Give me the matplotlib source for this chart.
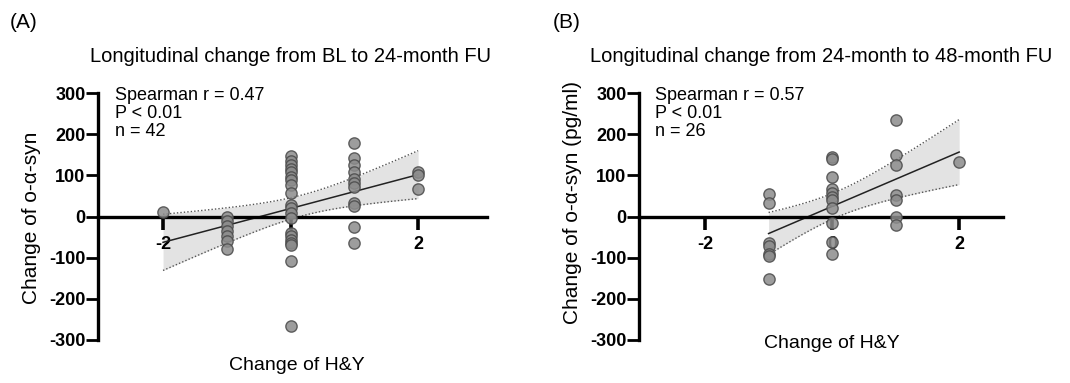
import numpy as np
import matplotlib
matplotlib.use("Agg")
import matplotlib.pyplot as plt

plt.rcParams['font.family'] = ['Liberation Sans', 'DejaVu Sans']

# ---------------- data ----------------
# Panel A: BL -> 24-month FU
a_y_m2 = [12]
a_y_m1 = [0, -12, -24, -36, -48, -60, -80]
a_y_0 = [148, 134, 126, 115, 107, 97, 88, 77, 57, 29, 21, 9, -3,
         -40, -48, -56, -64, -70, -108, -265]
a_y_p1 = [178, 142, 125, 108, 90, 82, 72, 32, 26, -26, -65]
a_y_p2 = [107, 102, 68]

# Panel B: 24-month -> 48-month FU
b_y_m1 = [55, 32, -65, -72, -90, -97, -152]
b_y_0 = [145, 140, 95, 67, 57, 47, 40, 20, -15, -62, -90]
b_y_p1 = [235, 150, 125, 53, 41, 0, -20]
b_y_p2 = [132]

a_groups = [(-2, a_y_m2), (-1, a_y_m1), (0, a_y_0), (1, a_y_p1), (2, a_y_p2)]
b_groups = [(-1, b_y_m1), (0, b_y_0), (1, b_y_p1), (2, b_y_p2)]

titles = ["Longitudinal change from BL to 24-month FU",
          "Longitudinal change from 24-month to 48-month FU"]
panel_tags = ["(A)", "(B)"]
ylabels = ["Change of o-\u03b1-syn", "Change of o-\u03b1-syn (pg/ml)"]
xlabel = "Change of H&Y"
stats_text = ["Spearman r = 0.47\nP < 0.01\nn = 42",
              "Spearman r = 0.57\nP < 0.01\nn = 26"]
y_ticks = [-300, -200, -100, 0, 100, 200, 300]
x_ticks = [-2, 0, 2]


def flatten(groups):
    xs, ys = [], []
    for gx, gy in groups:
        xs += [gx] * len(gy)
        ys += list(gy)
    return np.array(xs, float), np.array(ys, float)


def t_quant(nu, z=1.959964):
    return (z + (z**3 + z) / (4 * nu) + (5 * z**5 + 16 * z**3 + 3 * z) / (96 * nu**2)
            + (3 * z**7 + 19 * z**5 + 17 * z**3 - 15 * z) / (384 * nu**3))


W, H = 1070, 383
fig = plt.figure(figsize=(W / 100, H / 100), dpi=100)


def px(x, y):
    return x / W, 1 - y / H


def draw_panel(rect, groups, xlim, title, tag, ylab, stats, tag_xy, title_xy,
               ylab_xy, xlab_xy):
    ax = fig.add_axes(rect)
    x, y = flatten(groups)
    n = len(x)
    xm = x.mean()
    sxx = ((x - xm) ** 2).sum()
    b = ((x - xm) * (y - y.mean())).sum() / sxx
    a = y.mean() - b * xm
    res = y - (a + b * x)
    s = np.sqrt((res ** 2).sum() / (n - 2))
    xx = np.linspace(x.min(), x.max(), 100)
    yy = a + b * xx
    hw = t_quant(n - 2) * s * np.sqrt(1 / n + (xx - xm) ** 2 / sxx)
    ax.fill_between(xx, yy - hw, yy + hw, color='#e3e3e3', lw=0, zorder=1)
    ax.plot(xx, yy + hw, color='#555555', lw=1.0, ls=(0, (1, 1.5)), zorder=2)
    ax.plot(xx, yy - hw, color='#555555', lw=1.0, ls=(0, (1, 1.5)), zorder=2)
    ax.plot(xx, yy, color='#222222', lw=1.1, zorder=3)
    ax.scatter(x, y, s=66, facecolor='#8c8c8c', edgecolor='#4a4a4a',
               linewidths=1.0, alpha=0.85, zorder=5, clip_on=False)

    ax.set_xlim(*xlim)
    ax.set_ylim(-300, 300)
    ax.spines['top'].set_visible(False)
    ax.spines['right'].set_visible(False)
    ax.spines['left'].set_linewidth(2.4)
    ax.spines['bottom'].set_position(('data', 0))
    ax.spines['bottom'].set_linewidth(2.4)
    ax.spines['left'].set_zorder(4)
    ax.spines['bottom'].set_zorder(4)
    ax.set_yticks(y_ticks)
    ax.set_yticklabels([str(v) for v in y_ticks], fontweight='bold', fontsize=13)
    ax.set_xticks(x_ticks)
    ax.set_xticklabels([str(v) for v in x_ticks], fontweight='bold', fontsize=13)
    ax.tick_params(axis='y', direction='out', length=9, width=2, pad=0)
    ax.tick_params(axis='x', direction='out', length=9, width=2.6, pad=5)
    ax.patch.set_visible(False)

    ax.text(0.044, 1.025, stats, transform=ax.transAxes, ha='left', va='top',
            fontsize=13, linespacing=1.1)

    fig.text(*px(*tag_xy), tag, fontsize=15, ha='left', va='center')
    fig.text(*px(*title_xy), title, fontsize=14.5, ha='center', va='center')
    fig.text(*px(*ylab_xy), ylab, fontsize=15, ha='center', va='center',
             rotation=90)
    fig.text(*px(*xlab_xy), xlabel, fontsize=14, ha='center', va='center')
    return ax


y_top, y_bot = 93, 340
rect_a = [98 / W, 1 - y_bot / H, (487 - 98) / W, (y_bot - y_top) / H]
rect_b = [639 / W, 1 - y_bot / H, (1003 - 639) / W, (y_bot - y_top) / H]

draw_panel(rect_a, a_groups, (-3.02, 3.08), titles[0], panel_tags[0], ylabels[0],
           stats_text[0], (10, 22), (291, 57), (32, 218), (297, 366))
draw_panel(rect_b, b_groups, (-3.04, 2.69), titles[1], panel_tags[1], ylabels[1],
           stats_text[1], (553, 22), (821, 57), (572, 203), (832, 344))

fig.savefig("out.png", dpi=100)
